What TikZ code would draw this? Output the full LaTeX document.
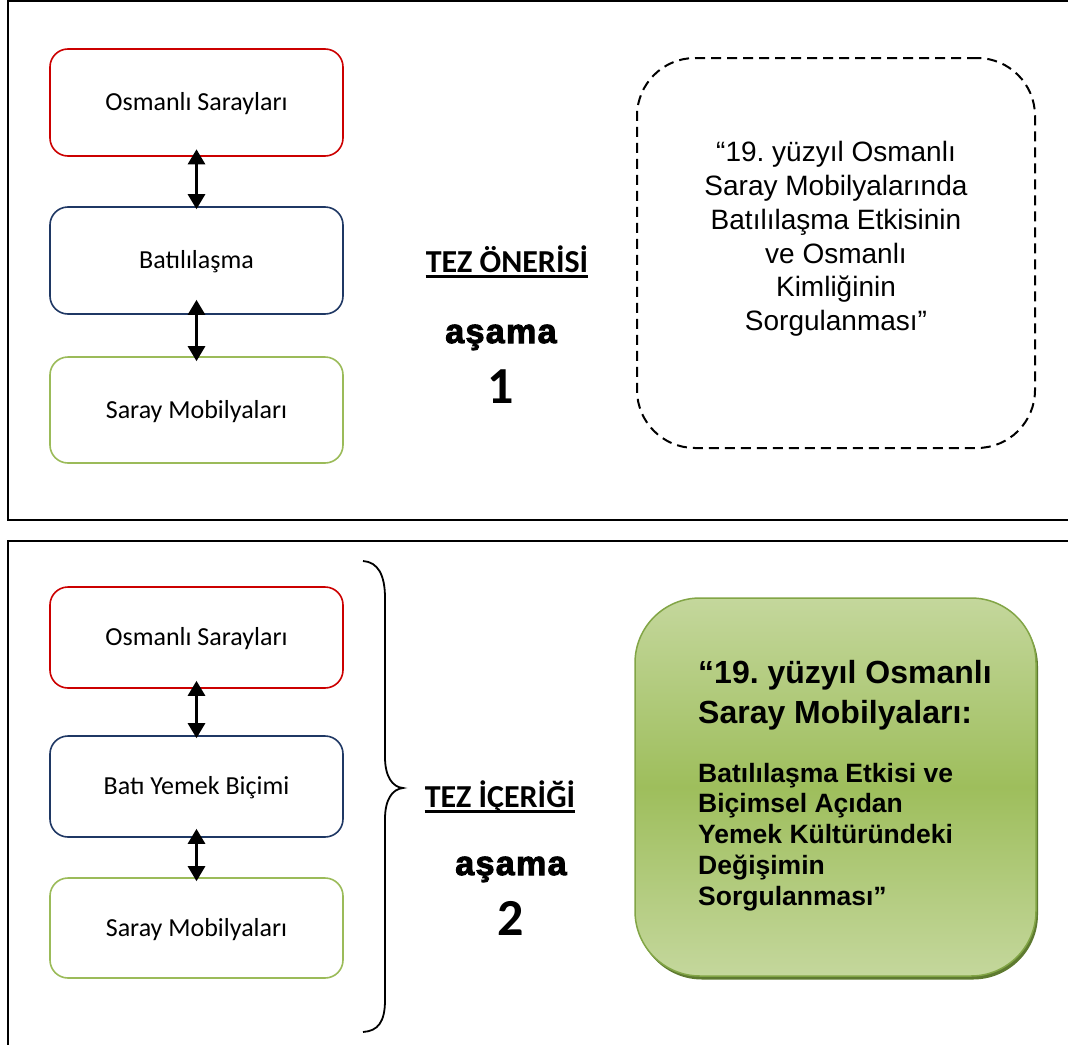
\documentclass[tikz,border=0pt]{standalone}
\usepackage{fontspec}
\setmainfont{Carlito}
\newfontfamily\arialfont{Liberation Sans}
\newfontfamily\heavyfont{Liberation Sans}[BoldFeatures={FakeBold=3}, LetterSpace=4]
\usetikzlibrary{arrows.meta,shadows,calc}
\frenchspacing

\definecolor{boxRed}{RGB}{204,0,0}
\definecolor{boxBlue}{RGB}{31,56,100}
\definecolor{boxGreen}{RGB}{155,187,89}
\definecolor{gLight}{RGB}{196,215,156}
\definecolor{gMid}{RGB}{158,190,92}
\definecolor{gEdge}{RGB}{130,165,70}
\definecolor{gShadow}{RGB}{94,122,48}

\tikzset{
  frame/.style={draw=black, line width=2pt},
  topic/.style={draw, line width=1.6pt, rounded corners=18pt, minimum width=293pt,
    minimum height=#1, fill=white, inner sep=0pt, text depth=2pt,
    font=\fontsize{26}{31}\selectfont},
  link/.style={{Triangle[width=17pt,length=15pt]}-{Triangle[width=17pt,length=15pt]},
    line width=2.8pt},
  heading/.style={inner sep=0pt, anchor=base, font=\bfseries\fontsize{32}{38}\selectfont},
  stagename/.style={inner sep=0pt, anchor=base, font=\heavyfont\bfseries\fontsize{34}{40}\selectfont},
  stagenum/.style={inner sep=0pt, anchor=base, font=\bfseries\fontsize{52}{60}\selectfont},
  titlebox/.style={draw=black, line width=2pt, dash pattern=on 10pt off 6pt,
    rounded corners=58pt, minimum width=398pt, minimum height=390pt},
  resultbox/.style={draw=gEdge, line width=1.5pt, rounded corners=65pt,
    minimum width=401pt, minimum height=378pt,
    top color=gLight, bottom color=gLight, middle color=gMid,
    drop shadow={shadow xshift=2pt, shadow yshift=-3.5pt, fill=gShadow, opacity=1}},
  bigline/.style={inner sep=0pt, anchor=base west, font=\arialfont\bfseries\fontsize{32}{38}\selectfont},
  smallline/.style={inner sep=0pt, anchor=base west, font=\arialfont\bfseries\fontsize{26.5}{31}\selectfont},
}

\begin{document}
\begin{tikzpicture}[x=1pt, y=-1pt]
  \useasboundingbox (0,0) rectangle (1068,1044);
  \fill[white] (0,0) rectangle (1068,1044);

  % outer frames of the two stages
  \begin{scope}
    \clip (0,0) rectangle (1068,1044);
    \draw[frame] (8,0.5) rectangle (1090,520);
    \draw[frame] (8,541) rectangle (1090,1070);
  \end{scope}

  % stage 1: topic chain
  \node[topic=107pt, draw=boxRed]   (o1) at (196.5,102.5) {Osmanlı Sarayları};
  \node[topic=107pt, draw=boxBlue]  (b1) at (196.5,260.5) {Batılılaşma};
  \node[topic=106pt, draw=boxGreen] (s1) at (196.5,410)   {Saray Mobilyaları};
  \draw[link, shorten <=-7.5pt, shorten >=-3pt] (o1) -- (b1);
  \draw[link, shorten <=-15pt, shorten >=-5pt] (b1) -- (s1);

  % stage 1: heading
  \node[heading] (h1) at (507,272) {TEZ ÖNERİSİ};
  \draw[line width=3pt] ($(h1.base west)+(0,4.5)$) -- ($(h1.base east)+(0,4.5)$);
  \node[stagename] (a1) at (501,343) {aşama};
  \node[stagenum]  (n1) at (501,403) {1};

  % stage 1: proposed title
  \node[titlebox] (q1) at (836,253) {};
  \node[align=center, inner sep=0pt, font=\arialfont\fontsize{28}{33.8}\selectfont]
    (q1t) at (836,239)
    {“19. yüzyıl Osmanlı\\Saray Mobilyalarında\\Batılılaşma Etkisinin\\ve Osmanlı\\Kimliğinin\\Sorgulanması”};

  % stage 2: topic chain
  \node[topic=101pt, draw=boxRed]   (o2) at (196.5,637.5) {Osmanlı Sarayları};
  \node[topic=101pt, draw=boxBlue]  (b2) at (196.5,786.5) {Batı Yemek Biçimi};
  \node[topic=100pt, draw=boxGreen] (s2) at (196.5,928)   {Saray Mobilyaları};
  \draw[link, shorten <=-8pt, shorten >=-3pt] (o2) -- (b2);
  \draw[link, shorten <=-9pt, shorten >=-4pt] (b2) -- (s2);

  % brace grouping the stage 2 chain
  \draw[line width=1.8pt]
    (363,561) .. controls (378,562) and (385,575) .. (385,598)
    -- (385,757) .. controls (385,776) and (392,787) .. (403,788)
    .. controls (392,789) and (385,800) .. (385,819)
    -- (385,1000) .. controls (385,1022) and (378,1031) .. (363,1032);

  % stage 2: heading
  \node[heading] (h2) at (500,807) {TEZ İÇERİĞİ};
  \draw[line width=3pt] ($(h2.base west)+(0,4.5)$) -- ($(h2.base east)+(0,4.5)$);
  \node[stagename] (a2) at (511,875) {aşama};
  \node[stagenum]  (n2) at (511,935) {2};

  % stage 2: final title
  \node[resultbox] (r2) at (835.5,787) {};
  \node[bigline]   (r2a) at (698,683)   {“19. yüzyıl Osmanlı};
  \node[bigline]   (r2b) at (698,723)   {Saray Mobilyaları:};
  \node[smallline] (r2c) at (698,782)   {Batılılaşma Etkisi ve};
  \node[smallline] (r2d) at (698,812.5) {Biçimsel Açıdan};
  \node[smallline] (r2e) at (698,843.5) {Yemek Kültüründeki};
  \node[smallline] (r2f) at (698,874)   {Değişimin};
  \node[smallline] (r2g) at (698,905)   {Sorgulanması”};
\end{tikzpicture}
\end{document}
